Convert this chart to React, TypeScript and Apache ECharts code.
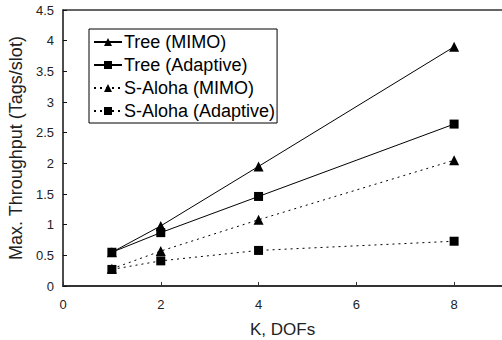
import React, { useEffect, useRef } from "react";
import * as echarts from "echarts";

const kValues = [1, 2, 4, 8];
const treeMimo = [0.55, 0.98, 1.95, 3.9];
const treeAdaptive = [0.55, 0.87, 1.46, 2.64];
const alohaMimo = [0.28, 0.57, 1.08, 2.05];
const alohaAdaptive = [0.27, 0.41, 0.58, 0.73];
const seriesNames = ["Tree (MIMO)", "Tree (Adaptive)", "S-Aloha (MIMO)", "S-Aloha (Adaptive)"];

const FONT = "'Liberation Sans', Arial, sans-serif";

export default function App() {
  const ref = useRef<HTMLDivElement>(null);
  useEffect(() => {
    if (!ref.current) return;
    const chart = echarts.init(ref.current, undefined, { renderer: "svg" });
    const mk = (name: string, vals: number[], symbol: string, size: number, dotted: boolean) => ({
      name,
      type: "line",
      xAxisIndex: 0,
      data: kValues.map((k, i) => [k, vals[i]]),
      symbol,
      symbolSize: size,
      itemStyle: { color: "#000" },
      lineStyle: { color: "#000", width: 1, type: dotted ? [2, 4] : "solid" },
    });
    chart.setOption({
      animation: false,
      backgroundColor: "#fff",
      textStyle: { fontFamily: FONT },
      grid: { left: 63, right: -1, top: 10, bottom: 54, show: false, outerBoundsMode: "none", containLabel: false },
      legend: {
        orient: "vertical",
        left: 89,
        top: 29,
        itemWidth: 28,
        itemHeight: 10,
        itemGap: 5,
        padding: [4, 2, 3, 4],
        borderColor: "#000",
        borderWidth: 1,
        backgroundColor: "#fff",
        textStyle: { fontFamily: FONT, fontSize: 18, color: "#000", padding: [0, 0, 0, -3] },
        data: seriesNames,
      },
      xAxis: [
        {
          type: "value",
          min: 0,
          max: 9,
          interval: 2,
          axisLine: { show: true, lineStyle: { color: "#333", width: 2 } },
          axisTick: { show: true, inside: true, length: 4, lineStyle: { color: "#333" } },
          axisLabel: {
            margin: 12,
            fontSize: 13,
            color: "#222",
            fontFamily: FONT,
            formatter: (v: number) => (v === 9 ? "" : String(v)),
          },
          splitLine: { show: false },
        },
        {
          type: "value",
          position: "top",
          min: 0,
          max: 9,
          interval: 2,
          axisLine: { show: true, lineStyle: { color: "#333", width: 1.5 } },
          axisTick: { show: false },
          axisLabel: { show: false },
          splitLine: { show: false },
        },
      ],
      yAxis: {
        type: "value",
        min: 0,
        max: 4.5,
        interval: 0.5,
        name: "Max. Throughput (Tags/slot)",
        nameLocation: "middle",
        nameGap: 34,
        nameTextStyle: { fontSize: 18, color: "#222", fontFamily: FONT },
        axisLine: { show: true, lineStyle: { color: "#111", width: 1.5 } },
        axisTick: { show: true, inside: true, length: 4, lineStyle: { color: "#111" } },
        axisLabel: { margin: 9, fontSize: 13, color: "#222", fontFamily: FONT },
        splitLine: { show: false },
      },
      graphic: [
        {
          type: "text",
          left: 250,
          top: 321,
          style: { text: "K, DOFs", fontSize: 17, fill: "#222", fontFamily: FONT },
        },
      ],
      series: [
        mk(seriesNames[0], treeMimo, "triangle", 10, false),
        mk(seriesNames[1], treeAdaptive, "rect", 9, false),
        mk(seriesNames[2], alohaMimo, "triangle", 10, true),
        mk(seriesNames[3], alohaAdaptive, "rect", 9, true),
      ],
    });
    return () => chart.dispose();
  }, []);
  return <div ref={ref} style={{ position: "fixed", left: 0, top: 0, width: 502, height: 340 }} />;
}
